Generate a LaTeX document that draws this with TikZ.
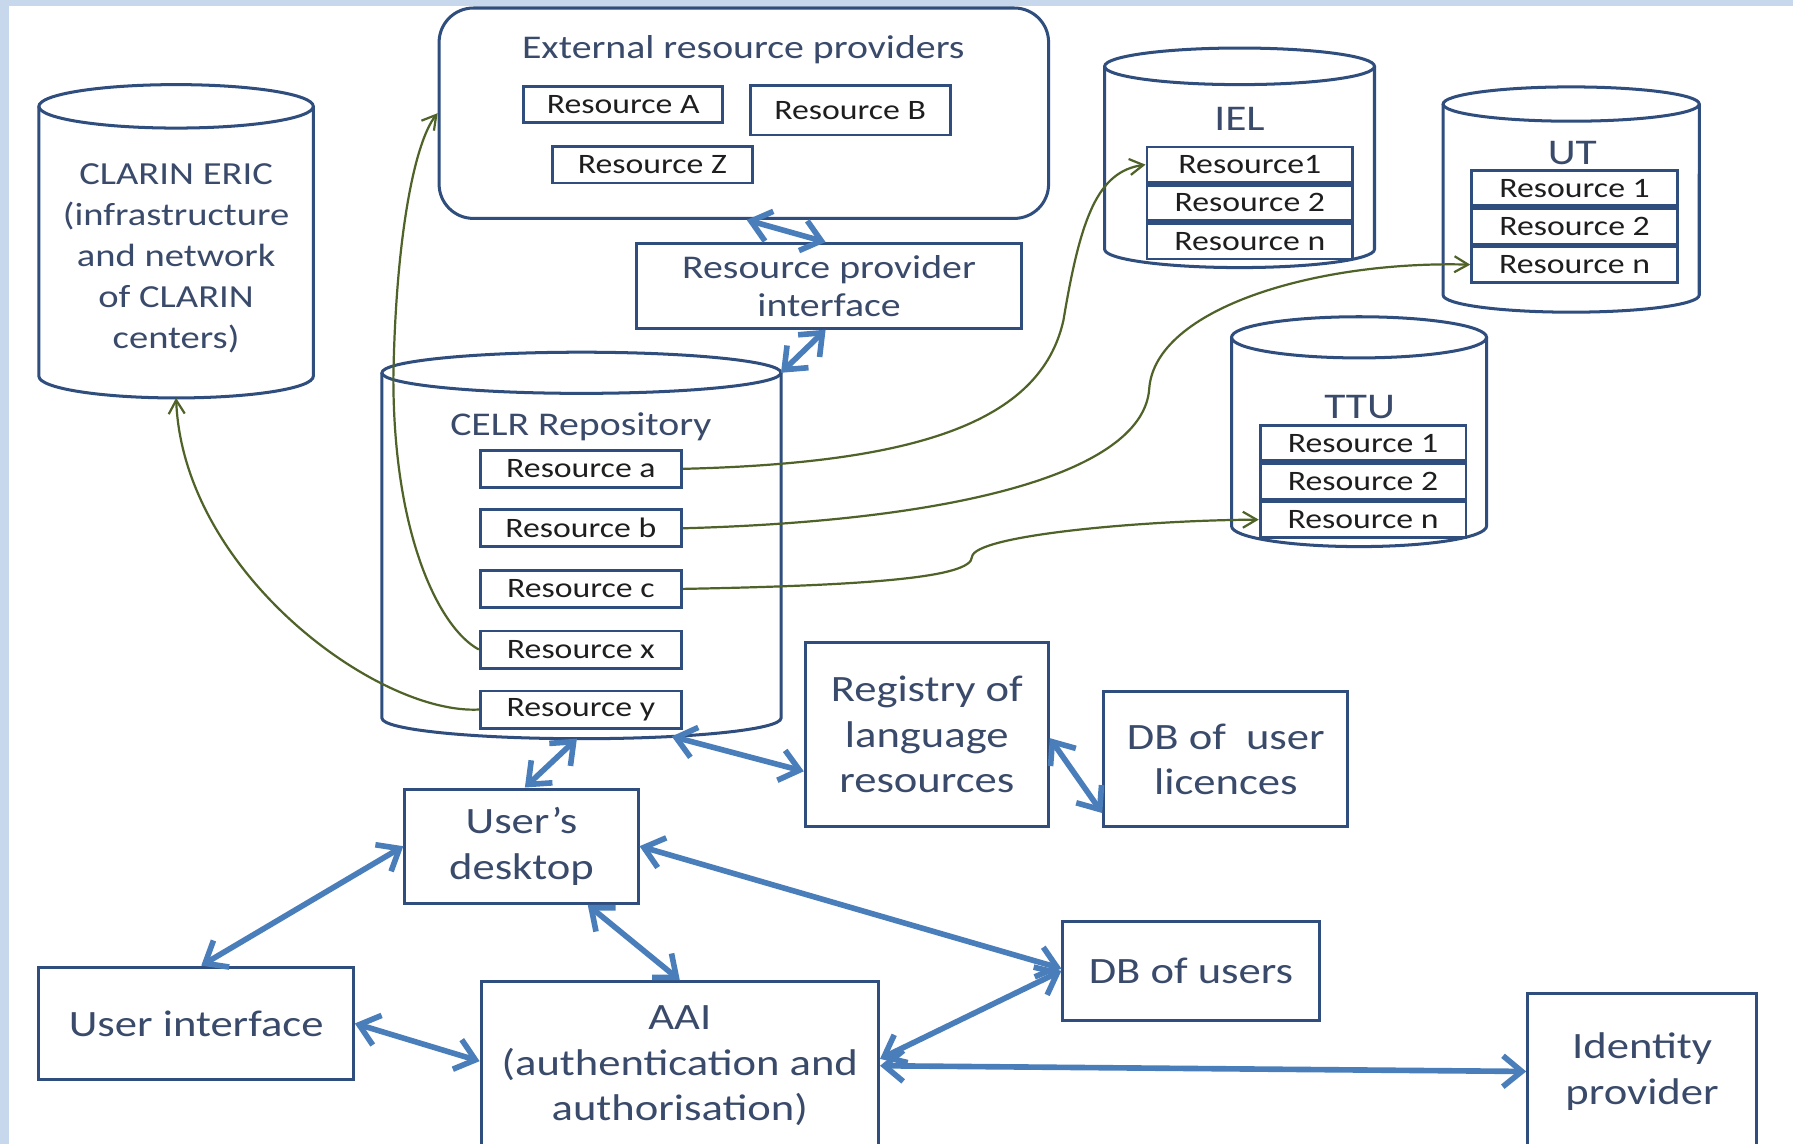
\documentclass[tikz,border=0pt]{standalone}
\usepackage{fontspec}
\setmainfont{Carlito}[FakeStretch=1.2]
\usetikzlibrary{arrows.meta,calc,positioning}

\definecolor{boxline}{RGB}{47,77,125}
\definecolor{linkblue}{RGB}{74,126,187}
\definecolor{feedgreen}{RGB}{79,98,40}
\definecolor{slate}{RGB}{58,74,106}
\definecolor{ink}{RGB}{30,30,30}
\definecolor{bgblue}{RGB}{200,216,236}

\tikzset{
  box/.style={draw=boxline, line width=1.5pt, fill=white, text=slate, align=center, inner sep=0pt,
    font=\fontsize{18.5}{22.7}\selectfont},
  resbox/.style={draw=boxline, line width=1.4pt, fill=white, text=ink, inner sep=0pt,
    font=\fontsize{14}{16}\selectfont, minimum width=35.2mm, minimum height=6.5mm},
  rowbox/.style={resbox, minimum width=36mm, minimum height=6.2mm},
  dbbody/.style={inner sep=0pt, outer sep=0pt},
  dbline/.style={draw=boxline, line width=1.5pt},
  dblabel/.style={text=slate, font=\fontsize{18}{20}\selectfont},
  link/.style={linkblue, line width=2.8pt,
    {Straight Barb[length=3.3mm,width=5.4mm]}-{Straight Barb[length=3.3mm,width=5.4mm]}},
  feed/.style={feedgreen, line width=1.1pt, -{Straight Barb[length=2.4mm,width=2.8mm]}},
}

% cylinder outline round a body node: name, x radius, y radius
\newcommand{\dbshape}[3]{%
  \draw[dbline] (#1.north west) -- (#1.south west)
    arc[start angle=180, end angle=0, x radius=#2, y radius=#3] -- (#1.north east);
  \draw[dbline] (#1.north) ellipse [x radius=#2, y radius=#3];}

\begin{document}
\begin{tikzpicture}[x=0.2mm, y=-0.2mm]
  % slide background
  \fill[bgblue] (0,0) rectangle (1568,1000);
  \fill[white] (8,5) rectangle (1568,1000);
  \useasboundingbox (0,0) rectangle (1568,1000);

  % CLARIN ERIC
  \node[dbbody, minimum width=48mm, minimum height=47.2mm] (clarin) at (154,211) {};
  \dbshape{clarin}{120}{19}
  \node[text=slate, align=center, font=\fontsize{16}{20.4}\selectfont] (clarintxt) at (154,226)
    {CLARIN ERIC\\(infrastructure\\and network\\of CLARIN\\centers)};

  % external providers
  \node[box, rounded corners=6mm, minimum width=106.6mm, minimum height=36.8mm] (ext) at (650.5,99) {};
  \node[text=slate, font=\fontsize{16.5}{19}\selectfont] (exttitle) at (650,43) {External resource providers};
  \node[resbox, minimum width=34.8mm, minimum height=6.2mm] (extA) at (545,91.5) {Resource A};
  \node[resbox, minimum width=35mm, minimum height=8.6mm] (extB) at (743.5,96.5) {Resource B};
  \node[resbox, minimum width=35mm, minimum height=6.4mm] (extZ) at (570.5,144) {Resource Z};
  \node[box, font=\fontsize{16.5}{18.7}\selectfont, minimum width=67.2mm, minimum height=14.8mm] (rpi) at (725,250)
    {Resource provider\\interface};

  % CELR repository
  \node[dbbody, minimum width=69.8mm, minimum height=60.4mm] (celr) at (508.5,477) {};
  \dbshape{celr}{174.5}{18}
  \node[text=slate, font=\fontsize{16.5}{19}\selectfont] (celrtxt) at (508,373) {CELR Repository};
  \node[resbox] (resa) at (508,410) {Resource a};
  \node[resbox] (resb) at (508,462) {Resource b};
  \node[resbox] (resc) at (508,515) {Resource c};
  \node[resbox] (resx) at (508,568) {Resource x};
  \node[resbox] (resy) at (508,620.5) {Resource y};

  % partner repositories
  \node[dbbody, minimum width=47.2mm, minimum height=32mm] (iel) at (1084,138) {};
  \dbshape{iel}{118}{16}
  \node[dblabel] (ieltxt) at (1084,104) {IEL};
  \node[rowbox] (iel1) at (1093,144) {Resource1};
  \node[rowbox, below=0pt of iel1] (iel2) {Resource 2};
  \node[rowbox, below=0pt of iel2] (iel3) {Resource n};

  \node[dbbody, minimum width=44.8mm, minimum height=33.4mm] (ut) at (1374,174.5) {};
  \dbshape{ut}{112}{15}
  \node[dblabel] (uttxt) at (1375,134) {UT};
  \node[rowbox] (ut1) at (1377,164.5) {Resource 1};
  \node[rowbox, below=0pt of ut1] (ut2) {Resource 2};
  \node[rowbox, below=0pt of ut2] (ut3) {Resource n};

  \node[dbbody, minimum width=44.6mm, minimum height=33mm] (ttu) at (1188.5,377.5) {};
  \dbshape{ttu}{111.5}{18}
  \node[dblabel] (ttutxt) at (1189,356) {TTU};
  \node[rowbox] (ttu1) at (1192,387.5) {Resource 1};
  \node[rowbox, below=0pt of ttu1] (ttu2) {Resource 2};
  \node[rowbox, below=0pt of ttu2] (ttu3) {Resource n};

  % user side
  \node[box, minimum width=42.5mm, minimum height=32.2mm] (registry) at (810.5,642.5)
    {Registry of\\language\\resources};
  \node[box, minimum width=42.7mm, minimum height=23.6mm] (licences) at (1072,664) {DB of~ user\\licences};
  \node[box, minimum width=40.8mm, minimum height=20mm] (desktop) at (456,740) {User’s\\desktop};
  \node[box, minimum width=55mm, minimum height=19.7mm] (ui) at (171.5,895) {User interface};
  \node[box, minimum width=69.5mm, minimum height=29.4mm] (aai) at (594.5,932)
    {AAI\\(authentication and\\authorisation)};
  \node[box, minimum width=44.8mm, minimum height=17.2mm] (dbusers) at (1041.5,849) {DB of users};
  \node[box, minimum width=40mm, minimum height=27.2mm] (identity) at (1436,937) {Identity\\provider};

  % blue links
  \draw[link] ($(ext.south)+(2.5,0)$) -- ($(rpi.north)+(-3,0)$);
  \draw[link] ($(rpi.south)+(-3,0)$) -- (celr.north east);
  \draw[link] ($(celr.south)+(-4,18)$) -- ($(desktop.north)+(3,0)$);
  \draw[link] ($(celr.south)+(79,16)$) -- ($(registry.west)+(0,32)$);
  \draw[link] ($(registry.east)+(0,3)$) -- ($(licences.west)+(0,47)$);
  \draw[link] (desktop.west) -- ($(ui.north)+(4.5,0)$);
  \draw[link] ($(desktop.south)+(58,0)$) -- (aai.north);
  \draw[link] (desktop.east) -- ($(dbusers.west)+(0,-2)$);
  \draw[link] (ui.east) -- ($(aai.west)+(0,-4)$);
  \draw[link] ($(aai.east)+(0,-6)$) -- (dbusers.west);
  \draw[link] (aai.east) -- (identity.west);

  % green feeds
  \draw[feed] (resa.east) .. controls (800,405) and (910,370) .. (930,280)
    .. controls (945,190) and (960,150) .. (iel1.west);
  \draw[feed] (resb.east) .. controls (850,455) and (1000,410) .. (1005,340)
    .. controls (1010,270) and (1150,228) .. (ut3.west);
  \draw[feed] (resc.east) .. controls (760,512) and (850,505) .. (850,487)
    .. controls (852,468) and (1000,455) .. (ttu3.west);
  \draw[feed] (resx.west) .. controls (385,550) and (344,470) .. (344,330)
    .. controls (346,210) and (362,125) .. (ext.west);
  \draw[feed] (resy.west) .. controls (330,625) and (160,500) .. ($(clarin.south)+(0,19)$);
\end{tikzpicture}
\end{document}
